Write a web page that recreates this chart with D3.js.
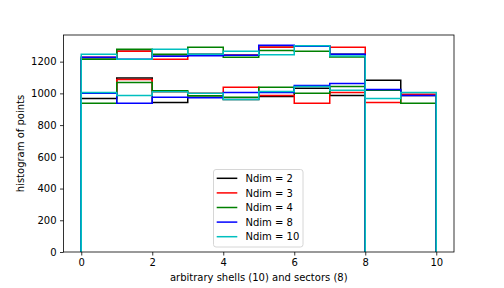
<!DOCTYPE html>
<html><head><meta charset="utf-8">
<script src="https://cdn.jsdelivr.net/npm/d3@7"></script>
<style>body{margin:0;background:#fff}svg{display:block}text{font-family:"DejaVu Sans",sans-serif}</style>
</head><body>
<svg id="c" width="504" height="288"></svg>
<script>
const labels = ["Ndim = 2","Ndim = 3","Ndim = 4","Ndim = 8","Ndim = 10"];
const colors = ["#000000","#ff0000","#008000","#0000ff","#00bfbf"];
// shells: 10 bins on [0,10]
const shells2  = [968,1097,943,975,962,981,1033,987,1082,987];
const shells3  = [1003,1088,1010,1000,1038,987,937,1006,943,994];
const shells4  = [937,1069,1016,985,975,1038,1000,1044,1019,937];
const shells8  = [1000,937,975,972,1006,1006,1050,1063,1025,987];
const shells10 = [1006,987,1010,1000,962,1012,1044,1019,968,1006];
// sectors: 8 bins on [0,8]
const sectors2  = [1215,1265,1234,1246,1240,1290,1297,1246];
const sectors3  = [1227,1265,1215,1240,1240,1290,1300,1290];
const sectors4  = [1215,1278,1246,1290,1227,1271,1265,1230];
const sectors8  = [1227,1215,1234,1237,1240,1303,1297,1246];
const sectors10 = [1246,1215,1278,1246,1265,1244,1301,1235];
const xTicks = [0,2,4,6,8,10];
const yTicks = [0,200,400,600,800,1000,1200];

const shells = [shells2,shells3,shells4,shells8,shells10];
const sectors = [sectors2,sectors3,sectors4,sectors8,sectors10];

const svg = d3.select("#c");
const L=63.5, R=454, T=35, B=252;
const x = d3.scaleLinear().domain([-0.5,10.5]).range([L,R]);
const y = d3.scaleLinear().domain([0,1368]).range([B,T]);

const g = svg.append("g");
function stepPath(vals){
  const pts=[[0,0]];
  vals.forEach((v,i)=>{pts.push([i,v]);pts.push([i+1,v]);});
  pts.push([vals.length,0]);
  return d3.line().x(d=>x(d[0])).y(d=>y(d[1]))(pts);
}
for(let k=0;k<5;k++){
  g.append("path").attr("d",stepPath(shells[k])).attr("fill","none").attr("stroke",colors[k]).attr("stroke-width",1.5);
  g.append("path").attr("d",stepPath(sectors[k])).attr("fill","none").attr("stroke",colors[k]).attr("stroke-width",1.5);
}

// axes
const xa = svg.append("g").attr("transform",`translate(0,${B})`)
  .call(d3.axisBottom(x).tickValues(xTicks).tickSize(3.5).tickPadding(3.5).tickFormat(d3.format("d")));
const ya = svg.append("g").attr("transform",`translate(${L},0)`)
  .call(d3.axisLeft(y).tickValues(yTicks).tickSize(3.5).tickPadding(3.5).tickFormat(d3.format("d")));
[xa,ya].forEach(a=>{a.select(".domain").remove();a.selectAll("text").attr("font-size",10).attr("fill","#000").style("font-family","DejaVu Sans");a.selectAll("line").attr("stroke","#000").attr("stroke-width",0.8);});
svg.append("rect").attr("x",L).attr("y",T).attr("width",R-L).attr("height",B-T).attr("fill","none").attr("stroke","#000").attr("stroke-width",0.8);

svg.append("text").attr("x",(L+R)/2).attr("y",281).attr("text-anchor","middle").attr("font-size",10).text("arbitrary shells (10) and sectors (8)");
svg.append("text").attr("transform",`translate(24,${(T+B)/2}) rotate(-90)`).attr("text-anchor","middle").attr("font-size",10).text("histogram of points");

// legend
const lg = svg.append("g");
lg.append("rect").attr("x",213.5).attr("y",169.5).attr("width",89.5).attr("height",77.5).attr("rx",2.5)
  .attr("fill","#fff").attr("fill-opacity",0.8).attr("stroke","#d6d6d6").attr("stroke-width",1);
labels.forEach((lab,i)=>{
  const yy = 178.3 + i*14.6;
  lg.append("line").attr("x1",216.7).attr("x2",237.3).attr("y1",yy).attr("y2",yy).attr("stroke",colors[i]).attr("stroke-width",1.5);
  lg.append("text").attr("x",245.5).attr("y",yy+3.6).attr("font-size",10).text(lab);
});
</script>
</body></html>
